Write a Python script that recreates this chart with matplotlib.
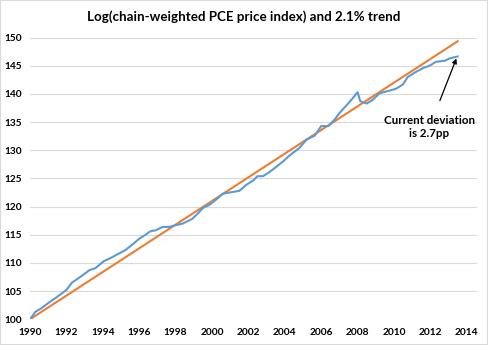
import matplotlib
matplotlib.use("Agg")
import matplotlib.pyplot as plt
import numpy as np
from matplotlib.patches import Rectangle

# log PCE price index (100 * log, rebased to 100 in 1990)
years = [1990.0, 1990.3, 1990.6, 1991.05, 1991.5, 1992.0, 1992.3, 1992.8, 1993.25, 1993.6,
         1994.05, 1994.5, 1994.9, 1995.25, 1995.6, 1996.0, 1996.35, 1996.6, 1996.9, 1997.3,
         1997.65, 1998.0, 1998.4, 1998.9, 1999.2, 1999.5, 1999.85, 2000.25, 2000.6, 2000.95,
         2001.5, 2001.9, 2002.25, 2002.5, 2002.8, 2003.1, 2003.35, 2003.9, 2004.25, 2004.8,
         2005.2, 2005.65, 2006.0, 2006.4, 2006.75, 2007.0, 2007.4, 2007.75, 2008.0, 2008.15,
         2008.5, 2008.85, 2009.2, 2009.65, 2010.1, 2010.5, 2010.75, 2011.2, 2011.6, 2011.95,
         2012.3, 2012.8, 2013.05, 2013.5]
pce = [100.0, 101.35, 101.9, 103.0, 104.0, 105.2, 106.5, 107.6, 108.7, 109.1,
       110.3, 111.0, 111.7, 112.3, 113.2, 114.3, 115.0, 115.6, 115.8, 116.4,
       116.4, 116.7, 117.0, 117.8, 118.7, 119.75, 120.3, 121.3, 122.3, 122.5,
       122.8, 123.9, 124.6, 125.4, 125.4, 126.0, 126.6, 128.0, 129.05, 130.4,
       131.9, 132.6, 134.3, 134.3, 135.5, 136.6, 138.0, 139.3, 140.3, 138.7,
       138.3, 139.0, 140.1, 140.5, 140.9, 141.7, 143.0, 143.9, 144.6, 145.0,
       145.7, 145.9, 146.3, 146.65]

trend_rate = 2.1
trend_x = [1990.0, 2013.5]
trend_y = [100 + trend_rate * (t - 1990.0) for t in trend_x]

xticks = list(range(1990, 2015, 2))
yticks = list(range(100, 151, 5))

plt.rcParams['font.family'] = ['Lato', 'DejaVu Sans']

fig = plt.figure(figsize=(4.88, 3.45), dpi=100)
ax = fig.add_axes([0.0615, 0.0745, 0.9155, 0.8165])

ax.plot(years, pce, color='#5B9BD5', lw=1.5, zorder=3)
ax.plot(trend_x, trend_y, color='#ED7D31', lw=1.5, zorder=2)

ax.set_xlim(1990, 2014.55)
ax.set_ylim(100, 150)
ax.set_xticks(xticks)
ax.set_yticks(yticks)
ax.set_xticklabels([str(t) for t in xticks], fontsize=7.3, fontweight='bold')
ax.set_yticklabels([str(t) for t in yticks], fontsize=7.3, fontweight='bold')
ax.tick_params(length=0, pad=6)
ax.grid(axis='y', color='#D9D9D9', lw=0.8)
ax.set_axisbelow(True)
for s in ax.spines.values():
    s.set_visible(False)

fig.text(0.5, 0.951, 'Log(chain-weighted PCE price index) and 2.1% trend',
         ha='center', va='center', fontsize=9.6, fontweight='bold')

ax.annotate('Current deviation\nis 2.7pp', xy=(2013.43, 146.3), xytext=(2011.95, 134.1),
            ha='center', va='center', fontsize=8.3, fontweight='bold', linespacing=1.25,
            arrowprops=dict(arrowstyle='-|>', color='black', lw=0.9, mutation_scale=7,
                            shrinkA=9, shrinkB=0))

fig.patches.append(Rectangle((0, 0), 1, 1, transform=fig.transFigure, fill=False,
                             edgecolor='#D9D9D9', lw=1.5))

fig.savefig('out.png', dpi=100)
